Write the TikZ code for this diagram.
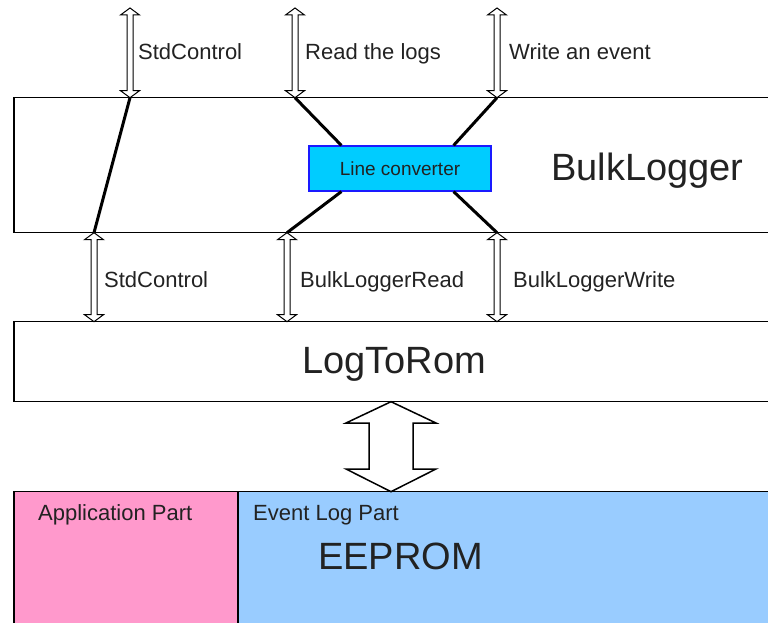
\documentclass[tikz,border=0pt]{standalone}
\usepackage{fontspec}
\setmainfont{Liberation Sans}
\usetikzlibrary{calc}
\definecolor{ink}{HTML}{222222}
\definecolor{convfill}{HTML}{00CCFF}
\definecolor{convedge}{HTML}{1A1AFF}
\definecolor{apppink}{HTML}{FF99CC}
\definecolor{logblue}{HTML}{99CCFF}

% hollow two-headed interface arrow between a top and a bottom point
\newcommand\ifacearrow[2]{%
  \filldraw[ifacestyle] let \p1=(#1), \p2=(#2) in
    (\x1,\y1) -- (\x1+9.5pt,\y1-7pt) -- (\x1+3pt,\y1-7pt) -- (\x1+3pt,\y2+7pt)
    -- (\x1+9.5pt,\y2+7pt) -- (\x1,\y2) -- (\x1-9.5pt,\y2+7pt) -- (\x1-3pt,\y2+7pt)
    -- (\x1-3pt,\y1-7pt) -- (\x1-9.5pt,\y1-7pt) -- cycle;}

\begin{document}
\begin{tikzpicture}[x=1pt,y=-1pt,
  box/.style={draw=black, line width=1.5pt, fill=white, inner sep=0pt, outer sep=0pt, anchor=north west},
  lbl/.style={text=ink, font=\fontsize{22}{26}\selectfont, anchor=base west, inner sep=0pt},
  big/.style={text=ink, font=\fontsize{38}{44}\selectfont, anchor=base west, inner sep=0pt},
  wire/.style={line width=3pt, draw=black},
  ifacestyle/.style={draw=black, fill=white, line width=1pt, line join=miter},
  busstyle/.style={draw=black, fill=white, line width=1.5pt, line join=miter},
]
\useasboundingbox (0,0) rectangle (768,623);
\clip (0,0) rectangle (768,623);

% component layers
\node[box, minimum width=800pt, minimum height=135pt] (bulk) at (14,97.7) {};
\node[box, minimum width=800pt, minimum height=80pt] (rom) at (14,321.7) {};
\node[box, fill=apppink, minimum width=224pt, minimum height=150pt] (app) at (14,491.7) {};
\node[box, fill=logblue, minimum width=600pt, minimum height=150pt] (evlog) at (238,491.7) {};

% line converter inside BulkLogger
\node[draw=convedge, fill=convfill, line width=1.2pt, minimum width=182pt, minimum height=45pt,
      inner sep=0pt, text=ink, font=\fontsize{19}{22}\selectfont] (conv) at (400,168.5) {Line converter};

% interface end points
\coordinate (sc-top) at (130,8);   \coordinate (sc-in) at (130,97.7);
\coordinate (rd-top) at (295,8);   \coordinate (rd-in) at (295,97.7);
\coordinate (wr-top) at (497,8);   \coordinate (wr-in) at (497,97.7);
\coordinate (sc-out) at (94,232.7);  \coordinate (sc-rom) at (94,321.7);
\coordinate (rd-out) at (287,232.7); \coordinate (rd-rom) at (287,321.7);
\coordinate (wr-out) at (497,232.7); \coordinate (wr-rom) at (497,321.7);
\coordinate (bus-top) at (391,401.7); \coordinate (bus-bot) at (391,491.7);

% internal wiring of BulkLogger
\draw[wire] (sc-in) -- (sc-out);
\draw[wire] (rd-in) -- ($(conv.north west)+(33,0)$);
\draw[wire] (wr-in) -- ($(conv.north east)+(-38,0)$);
\draw[wire] ($(conv.south west)+(33,0)$) -- (rd-out);
\draw[wire] ($(conv.south east)+(-38,0)$) -- (wr-out);

% interfaces
\ifacearrow{sc-top}{sc-in}
\ifacearrow{rd-top}{rd-in}
\ifacearrow{wr-top}{wr-in}
\ifacearrow{sc-out}{sc-rom}
\ifacearrow{rd-out}{rd-rom}
\ifacearrow{wr-out}{wr-rom}

% bus between LogToRom and EEPROM
\filldraw[busstyle] let \p1=(bus-top), \p2=(bus-bot) in
  (\x1,\y1) -- (\x1+45pt,\y1-21.3pt) -- (\x1+22pt,\y1-21.3pt) -- (\x1+22pt,\y2+22.7pt)
  -- (\x1+45pt,\y2+22.7pt) -- (\x1,\y2) -- (\x1-45pt,\y2+22.7pt) -- (\x1-22pt,\y2+22.7pt)
  -- (\x1-22pt,\y1-21.3pt) -- (\x1-45pt,\y1-21.3pt) -- cycle;

% labels
\node[lbl] (t-sc) at (138,60) {StdControl};
\node[lbl] (t-rd) at (305,60) {Read the logs};
\node[lbl] (t-wr) at (509,60) {Write an event};
\node[lbl] (b-sc) at (104,287.5) {StdControl};
\node[lbl] (b-rd) at (300,287.5) {BulkLoggerRead};
\node[lbl] (b-wr) at (513,287.5) {BulkLoggerWrite};
\node[big] (n-bulk) at (551,180.5) {BulkLogger};
\node[big] (n-rom) at (302,373.5) {LogToRom};
\node[lbl] (n-app) at (38,520) {Application Part};
\node[lbl] (n-ev) at (253,520) {Event Log Part};
\node[big] (n-ee) at (318,569) {EEPROM};
\end{tikzpicture}
\end{document}
